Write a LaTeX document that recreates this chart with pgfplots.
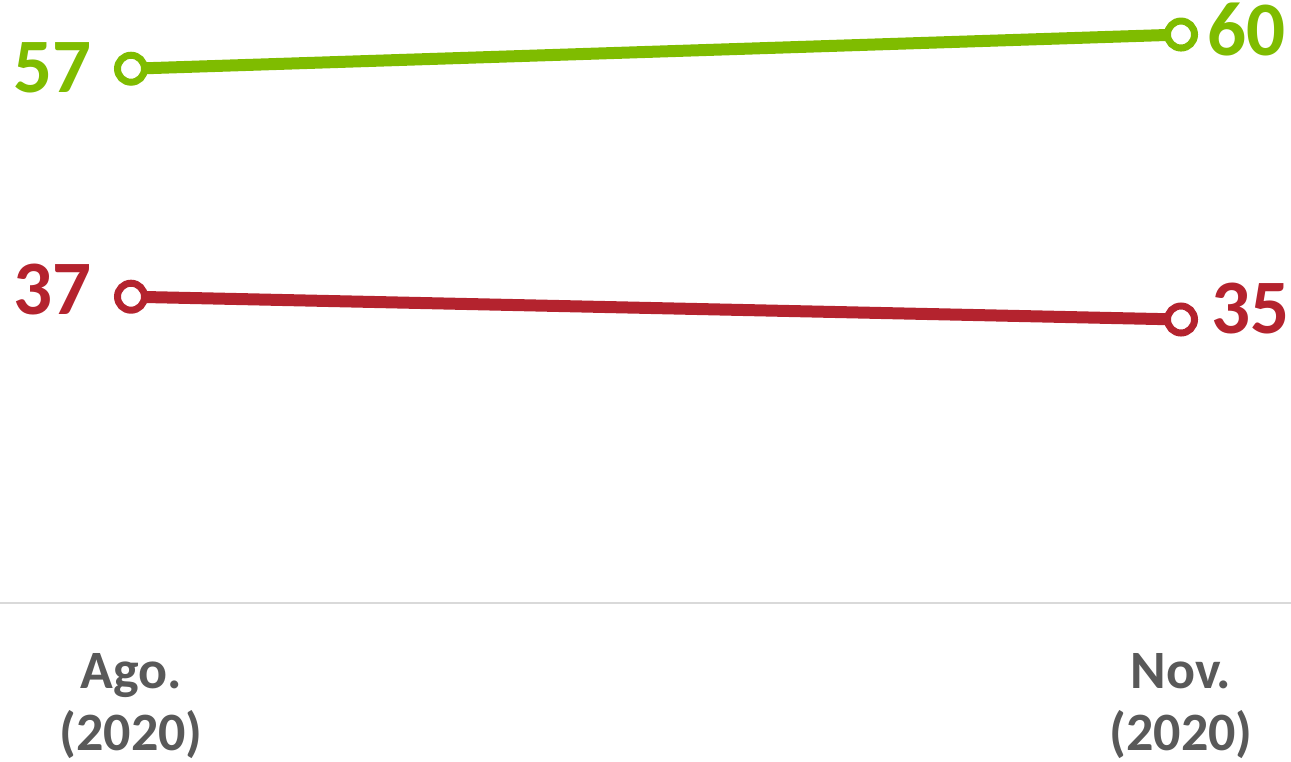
\documentclass[border=0pt]{standalone}
\usepackage{fontspec}
\setmainfont{Carlito}
\usepackage{pgfplots}
\pgfplotsset{compat=1.18}
\definecolor{cgreen}{RGB}{127,188,0}
\definecolor{cred}{RGB}{180,35,46}
\definecolor{cgray}{RGB}{89,89,89}
\definecolor{caxis}{RGB}{217,217,217}
\begin{document}
\begin{tikzpicture}
\begin{axis}[
  at={(0,0)}, anchor=south west,
  scale only axis, width=645.5pt, height=301.5pt,
  xmin=-0.12476, xmax=1.10476, ymin=10.13, ymax=63.03,
  hide y axis,
  axis x line*=bottom,
  x axis line style={draw=caxis, line width=0.75pt},
  xtick={0,1},
  xticklabels={Ago.\\(2020), Nov.\\(2020)},
  major tick length=0pt,
  xticklabel style={align=center, inner sep=0pt, yshift=-25pt,
    font=\fontsize{27pt}{31pt}\selectfont\bfseries, text=cgray},
  clip=false,
]
\addplot[cgreen, line width=6pt, mark=*, mark size=6.75pt,
  mark options={fill=white, draw=cgreen, line width=3.5pt}]
  coordinates {(0,57) (1,60)}
  node[pos=0, anchor=east, inner sep=0pt, xshift=-16.5pt, yshift=0.5pt,
       font=\fontsize{38.5pt}{40pt}\selectfont\bfseries, text=cgreen]{57}
  node[pos=1, anchor=west, inner sep=0pt, xshift=10pt, yshift=2.5pt,
       font=\fontsize{38.5pt}{40pt}\selectfont\bfseries, text=cgreen]{60};
\addplot[cred, line width=6pt, mark=*, mark size=6.75pt,
  mark options={fill=white, draw=cred, line width=3.5pt}]
  coordinates {(0,37) (1,35)}
  node[pos=0, anchor=east, inner sep=0pt, xshift=-16.5pt, yshift=3.5pt,
       font=\fontsize{38.5pt}{40pt}\selectfont\bfseries, text=cred]{37}
  node[pos=1, anchor=west, inner sep=0pt, xshift=12pt, yshift=5.5pt,
       font=\fontsize{38.5pt}{40pt}\selectfont\bfseries, text=cred]{35};
\end{axis}
\pgfresetboundingbox
\path[use as bounding box] (0,-79pt) rectangle (645.5pt,301.5pt);
\end{tikzpicture}
\end{document}
